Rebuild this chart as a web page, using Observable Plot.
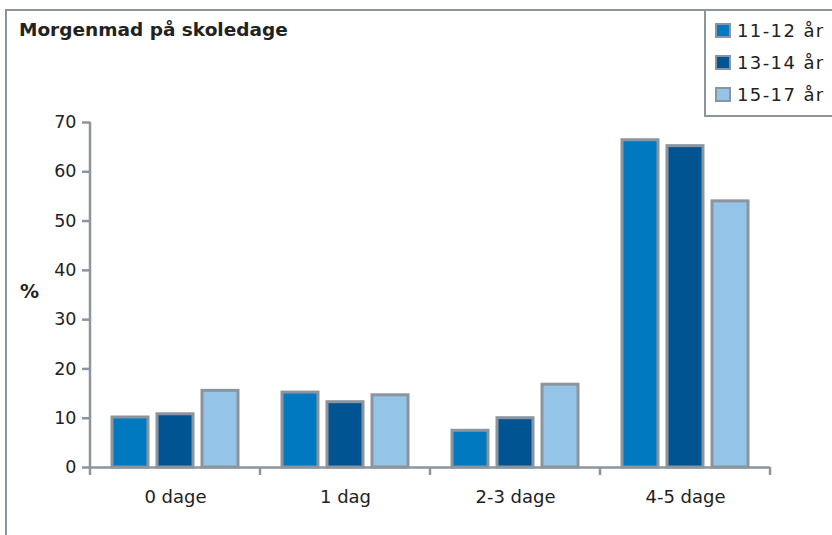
<!DOCTYPE html>
<html><head><meta charset="utf-8">
<script src="https://cdn.jsdelivr.net/npm/d3@7"></script>
<script src="https://cdn.jsdelivr.net/npm/@observablehq/plot@0.6"></script>
<style>
body{margin:0;background:#fff;}
#wrap{position:relative;width:832px;height:535px;overflow:hidden;font-family:"DejaVu Sans",Verdana,sans-serif;color:#222;}
#frame{position:absolute;left:5px;top:9px;width:900px;height:600px;border-top:2.5px solid #8c959d;border-left:2.5px solid #8c959d;}
#title{position:absolute;left:19px;top:21px;font-weight:bold;font-size:18.5px;line-height:18px;white-space:nowrap;}
#pct{position:absolute;left:20px;top:282px;font-weight:bold;font-size:19px;line-height:18px;}
#legend{position:absolute;left:704px;top:10px;width:200px;height:101px;border-left:2.5px solid #8c959d;border-bottom:2.5px solid #8c959d;padding-top:4px;box-sizing:content-box;}
.item{height:32px;display:flex;align-items:center;padding-left:9px;font-size:18px;letter-spacing:1.4px;white-space:nowrap;}
.sw{width:12px;height:11px;border:2px solid #8c959d;margin-right:6px;}
#chart{position:absolute;left:0;top:0;}
</style></head>
<body>
<div id="wrap">
  <div id="frame"></div>
  <div id="title"></div>
  <div id="pct">%</div>
  <div id="legend"></div>
  <div id="chart"></div>
</div>
<script>
const titleText = "Morgenmad på skoledage";
const categories = ["0 dage", "1 dag", "2-3 dage", "4-5 dage"];
const groups = ["11-12 år", "13-14 år", "15-17 år"];
const v1112 = [10.15, 15.2, 7.45, 66.4];
const v1314 = [10.8, 13.25, 10.0, 65.2];
const v1517 = [15.55, 14.65, 16.8, 54.0];
const colors = ["#0079c0", "#005492", "#94c5e8"];
const yTicks = [0, 10, 20, 30, 40, 50, 60, 70];

const series = [v1112, v1314, v1517];
const data = categories.flatMap((c, i) => groups.map((g, j) => ({cat: c, grp: g, v: series[j][i]})));

document.getElementById("title").textContent = titleText;
const leg = document.getElementById("legend");
groups.forEach((g, j) => {
  const it = document.createElement("div"); it.className = "item";
  const sw = document.createElement("div"); sw.className = "sw"; sw.style.background = colors[j];
  const t = document.createElement("span"); t.textContent = g;
  it.appendChild(sw); it.appendChild(t); leg.appendChild(it);
});

const gray = "#8c959d";
const plot = Plot.plot({
  width: 832, height: 535,
  marginLeft: 89, marginRight: 61, marginTop: 122, marginBottom: 68,
  style: {fontFamily: "DejaVu Sans, Verdana, sans-serif", fontSize: "17px", color: "#222", background: "transparent", overflow: "visible"},
  fx: {domain: categories, padding: 0, label: null},
  x: {domain: groups, paddingInner: 0.197, paddingOuter: 0.46, axis: null},
  y: {domain: [0, 70], label: null},
  color: {domain: groups, range: colors},
  marks: [
    Plot.axisY({ticks: yTicks, tickSize: 8, tickPadding: 6, stroke: gray, strokeWidth: 2.5, strokeOpacity: 1, label: null, fontSize: 17.5}),
    Plot.barY(data, {fx: "cat", x: "grp", y: "v", fill: "grp", stroke: gray, strokeWidth: 3}),
    Plot.ruleY([0], {stroke: gray, strokeWidth: 2.5}),
    Plot.axisFx({anchor: "bottom", tickSize: 0, tickPadding: 23, fontSize: 18, label: null})
  ]
});

const fx = plot.scale("fx"), y = plot.scale("y");
const svg = d3.select(plot);
const g = svg.append("g").attr("stroke", gray).attr("stroke-width", 2.5);
const bounds = categories.map(c => fx.apply(c));
bounds.push(fx.apply(categories[categories.length - 1]) + fx.bandwidth);
bounds.forEach(x => g.append("line").attr("x1", x).attr("x2", x).attr("y1", y.apply(0)).attr("y2", y.apply(0) + 8));
g.append("line").attr("x1", bounds[0]).attr("x2", bounds[0]).attr("y1", y.apply(yTicks[yTicks.length - 1])).attr("y2", y.apply(0));
document.getElementById("chart").appendChild(plot);
</script>
</body></html>
